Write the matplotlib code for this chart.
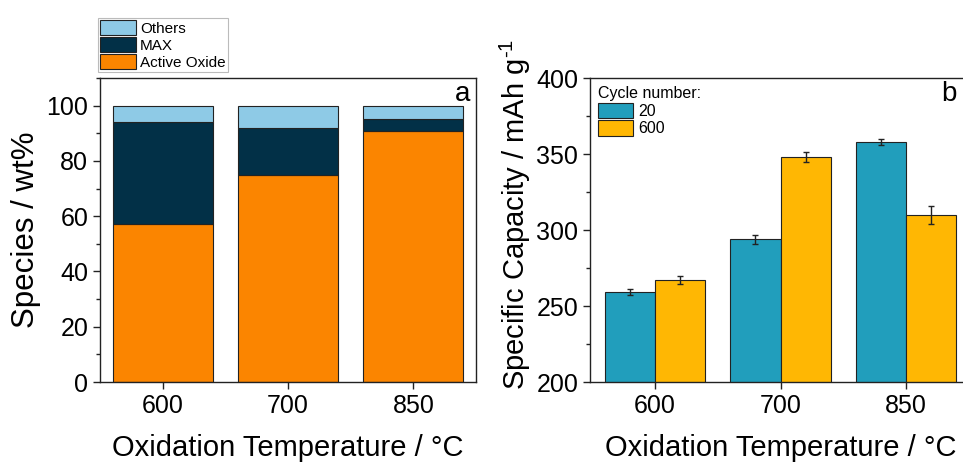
import matplotlib
matplotlib.use("Agg")
import matplotlib.pyplot as plt
import numpy as np
from matplotlib.ticker import MultipleLocator

plt.rcParams['font.family'] = ['Liberation Sans', 'DejaVu Sans']
plt.rcParams['mathtext.fontset'] = 'custom'
plt.rcParams['mathtext.rm'] = 'Liberation Sans'
plt.rcParams['mathtext.default'] = 'regular'

temps = ['600', '700', '850']

# panel a: composition (wt%)
active_oxide = [57, 75, 91]
max_phase = [37, 17, 4]
others = [6, 8, 5]

# panel b: specific capacity (mAh/g)
cap_20 = [259, 294, 358]
cap_20_err = [2, 3, 2]
cap_600 = [267, 348, 310]
cap_600_err = [2.5, 3.5, 6]

c_others = '#8ECAE6'
c_max = '#023047'
c_active = '#FB8500'
c_20 = '#219EBC'
c_600 = '#FFB703'

fig = plt.figure(figsize=(9.63, 4.62), dpi=100)
W, H = 963, 462

def px_axes(l, t, r, b):
    return fig.add_axes([l / W, 1 - b / H, (r - l) / W, (b - t) / H])

# ---- panel a ----
ax1 = px_axes(100, 78, 476, 382)
x = np.arange(len(temps))
edge = dict(edgecolor='#222222', linewidth=0.8)
b1 = ax1.bar(x, active_oxide, 0.8, color=c_active, label='Active Oxide', **edge)
b2 = ax1.bar(x, max_phase, 0.8, bottom=active_oxide, color=c_max, label='MAX', **edge)
bottom2 = np.array(active_oxide) + np.array(max_phase)
b3 = ax1.bar(x, others, 0.8, bottom=bottom2, color=c_others, label='Others', **edge)
ax1.set_xlim(-0.5, 2.5)
ax1.set_ylim(0, 110)
ax1.set_xticks(x)
ax1.set_xticklabels(temps)
ax1.yaxis.set_major_locator(MultipleLocator(20))
ax1.yaxis.set_minor_locator(MultipleLocator(10))
ax1.set_ylabel('Species / wt%', fontsize=22.5)
ax1.set_xlabel('Oxidation Temperature / °C', fontsize=21, labelpad=12)
ax1.text(0.985, 0.99, 'a', transform=ax1.transAxes, ha='right', va='top', fontsize=20)
leg1 = ax1.legend([b3, b2, b1], ['Others', 'MAX', 'Active Oxide'],
                  loc='lower left', bbox_to_anchor=(-0.005, 1.02), fontsize=11,
                  frameon=True, fancybox=False, borderpad=0.15, labelspacing=0.1,
                  handlelength=2.3, handleheight=1.1, handletextpad=0.3,
                  borderaxespad=0)
leg1.get_frame().set_edgecolor('#aaaaaa')
leg1.get_frame().set_linewidth(0.8)

# ---- panel b ----
ax2 = px_axes(590, 78, 971, 382)
w = 0.4
e20 = ax2.bar(x - w / 2, cap_20, w, color=c_20, label='20', **edge)
e600 = ax2.bar(x + w / 2, cap_600, w, color=c_600, label='600', **edge)
ax2.errorbar(x - w / 2, cap_20, yerr=cap_20_err, fmt='none', ecolor='#222222',
             elinewidth=1, capsize=2.5, capthick=1)
ax2.errorbar(x + w / 2, cap_600, yerr=cap_600_err, fmt='none', ecolor='#222222',
             elinewidth=1, capsize=2.5, capthick=1)
ax2.set_xlim(-0.52, 2.52)
ax2.set_ylim(200, 400)
ax2.set_xticks(x)
ax2.set_xticklabels(temps)
ax2.yaxis.set_major_locator(MultipleLocator(50))
ax2.yaxis.set_minor_locator(MultipleLocator(25))
ax2.set_ylabel(r'Specific Capacity / mAh g$^{\text{-1}}$', fontsize=21)
ax2.yaxis.set_label_coords(-0.15, 0.55)
ax2.set_xlabel('Oxidation Temperature / °C', fontsize=21, labelpad=12)
ax2.text(0.962, 0.99, 'b', transform=ax2.transAxes, ha='right', va='top', fontsize=20)
leg2 = ax2.legend(title='Cycle number:', loc='upper left', fontsize=11.5,
                  title_fontsize=11.5, frameon=False, borderpad=0.3,
                  labelspacing=0.1, handlelength=2.2, handleheight=1.1,
                  handletextpad=0.3, borderaxespad=0.2)
leg2._legend_box.align = 'left'

for ax in (ax1, ax2):
    ax.tick_params(axis='both', which='major', labelsize=18, length=5, width=1,
                   direction='out', color='#222222')
    ax.tick_params(axis='both', which='minor', length=3, width=1, color='#222222')
    ax.tick_params(axis='x', which='minor', bottom=False)
    for s in ax.spines.values():
        s.set_linewidth(1)
        s.set_color('#222222')
    ax.set_axisbelow(False)

fig.savefig('out.png', dpi=100)
